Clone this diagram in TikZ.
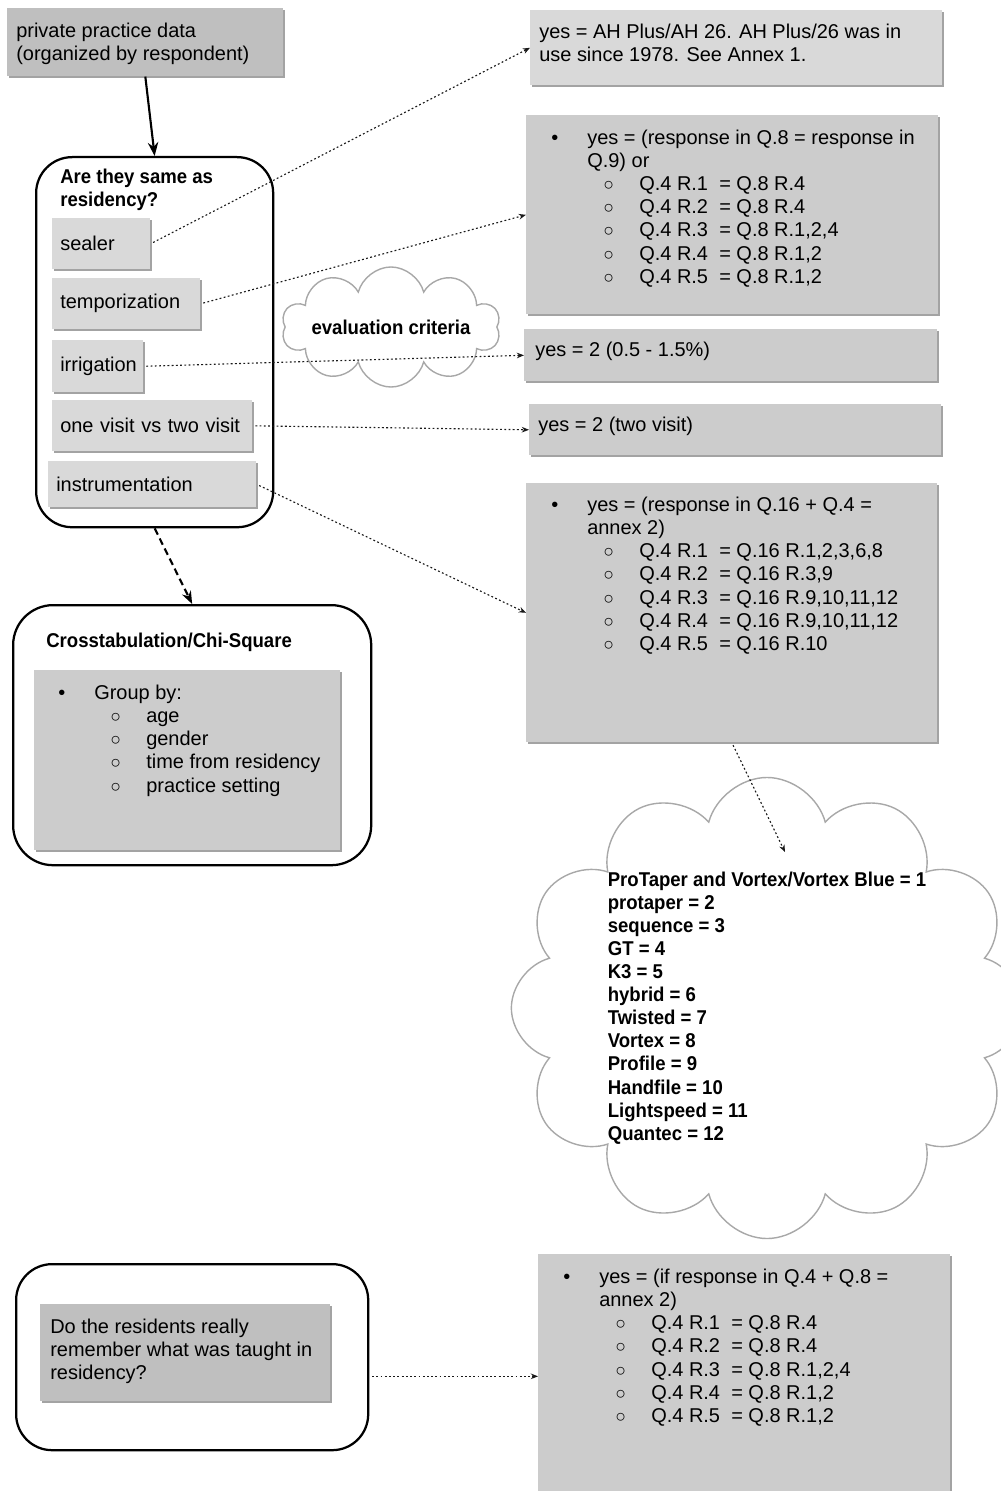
\documentclass[tikz,border=0pt]{standalone}
\usepackage{fontspec}
\setmainfont{Liberation Sans}
\newfontfamily\headfont{Liberation Sans}[FakeStretch=0.93]
\usepackage{xcolor}
\usetikzlibrary{arrows.meta,positioning,shapes.symbols,shadows}
\definecolor{BoxDark}{HTML}{BFBFBF}
\definecolor{BoxMid}{HTML}{CCCCCC}
\definecolor{BoxLight}{HTML}{D9D9D9}
\definecolor{CloudGray}{HTML}{A8A8A8}
\definecolor{EdgeGray}{HTML}{A3A3A3}
\newlength\pxu
\setlength\pxu{0.025cm}
\newcommand{\bodyfont}{\fontsize{14.2pt}{16.4pt}\selectfont}
\newcommand{\dotitem}[1]{\makebox[36\pxu][l]{\textbullet}#1}
\newcommand{\ringitem}[1]{\hspace*{52\pxu}\makebox[36\pxu][l]{{\fontsize{12.5pt}{10pt}\selectfont ○}}#1}
\newcommand{\qmap}[2]{\ringitem{\makebox[80\pxu][l]{#1}= #2}}
\tikzset{
  greybox/.style={fill=#1,draw=none,inner sep=0pt,anchor=north west,
    drop shadow={shadow xshift=0.9pt,shadow yshift=-1.1pt,fill=EdgeGray,opacity=1}},
  optbox/.style={greybox=BoxLight,font=\bodyfont,inner xsep=0.2cm,inner ysep=0pt,align=left},
  txt/.style={anchor=north west,inner sep=0pt,align=left,font=\bodyfont},
  headtxt/.style={txt,font=\headfont\bfseries\bodyfont},
  roundbox/.style={draw=black,line width=1.6pt,rounded corners=0.9cm,anchor=north west,inner sep=0pt},
  puffcloud/.style={cloud,cloud puffs=#1,cloud ignores aspect,draw=CloudGray,line width=1pt,
    inner sep=0pt,align=left,font=\headfont\bfseries\bodyfont},
  linkdot/.style={-{Stealth[length=1.8mm,width=1.4mm]},line width=0.8pt,draw=black!90,
    dash pattern=on 1.3pt off 1.7pt,shorten <=2pt},
  mainarrow/.style={-{Stealth[length=3.4mm,width=2.6mm]},line width=1.5pt},
  dasharrow/.style={-{Stealth[length=3.2mm,width=2.4mm]},line width=1.5pt,dash pattern=on 5pt off 3pt}
}
\begin{document}
\begin{tikzpicture}[x=0.025cm,y=-0.025cm]
\useasboundingbox (0,0) rectangle (1000,1491);
% left column
\node[greybox=BoxDark,minimum width=6.9cm,minimum height=1.7cm] (priv) at (7,8) {};
\node[txt] (privtxt) at (16,23) {private practice data\\(organized by respondent)};
\node[roundbox,minimum width=5.925cm,minimum height=9.25cm] (same) at (35,156) {};
\node[headtxt] (sametitle) at (60,169) {Are they same as\\residency?};
\node[optbox,text width=2.05cm,minimum height=1.275cm] (sealer) at (52,218) {sealer};
\node[optbox,text width=3.3cm,minimum height=1.275cm] (temp) at (52,278) {temporization};
\node[optbox,text width=1.875cm,minimum height=1.3cm] (irrig) at (52,340) {irrigation};
\node[optbox,text width=4.6cm,minimum height=1.275cm] (visit) at (52,400) {one visit vs two visit};
\node[optbox,text width=4.8cm,minimum height=1.15cm] (instr) at (48,461) {instrumentation};
\node[roundbox,minimum width=8.95cm,minimum height=6.5cm,rounded corners=1cm] (cross) at (12,604) {};
\node[headtxt] (crosstitle) at (46,633) {Crosstabulation/Chi-Square};
\node[greybox=BoxMid,minimum width=7.65cm,minimum height=4.5cm] (crossin) at (34,670) {};
\node[txt] (crosstxt) at (58,685) {\dotitem{Group by:}\\
  \ringitem{age}\\
  \ringitem{gender}\\
  \ringitem{time from residency}\\
  \ringitem{practice setting}};
\node[roundbox,minimum width=8.8cm,minimum height=4.65cm] (resid) at (15,1263) {};
\node[greybox=BoxDark,minimum width=7.25cm,minimum height=2.425cm] (residin) at (40,1304) {};
\node[txt] (residtxt) at (50,1319) {Do the residents really\\remember what was taught in\\residency?};
% right column
\node[greybox=BoxLight,minimum width=10.3cm,minimum height=1.875cm] (r1) at (530,10) {};
\node[txt] (r1txt) at (539,24) {yes = AH Plus/AH 26. AH Plus/26 was in\\use since 1978. See Annex 1.};
\node[greybox=BoxMid,minimum width=10.3cm,minimum height=4.975cm] (r2) at (526,115) {};
\node[txt] (r2txt) at (551,130) {\dotitem{yes = (response in Q.8 = response in}\\
  \hspace*{36\pxu}Q.9) or\\
  \qmap{Q.4 R.1}{Q.8 R.4}\\
  \qmap{Q.4 R.2}{Q.8 R.4}\\
  \qmap{Q.4 R.3}{Q.8 R.1,2,4}\\
  \qmap{Q.4 R.4}{Q.8 R.1,2}\\
  \qmap{Q.4 R.5}{Q.8 R.1,2}};
\node[greybox=BoxMid,minimum width=10.325cm,minimum height=1.3cm] (r3) at (524,329) {};
\node[txt] (r3txt) at (535,342) {yes = 2 (0.5 - 1.5\%)};
\node[greybox=BoxMid,minimum width=10.3cm,minimum height=1.275cm] (r4) at (529,404) {};
\node[txt] (r4txt) at (538,417) {yes = 2 (two visit)};
\node[greybox=BoxMid,minimum width=10.275cm,minimum height=6.475cm] (r5) at (526,483) {};
\node[txt] (r5txt) at (551,497) {\dotitem{yes = (response in Q.16 + Q.4 =}\\
  \hspace*{36\pxu}annex 2)\\
  \qmap{Q.4 R.1}{Q.16 R.1,2,3,6,8}\\
  \qmap{Q.4 R.2}{Q.16 R.3,9}\\
  \qmap{Q.4 R.3}{Q.16 R.9,10,11,12}\\
  \qmap{Q.4 R.4}{Q.16 R.9,10,11,12}\\
  \qmap{Q.4 R.5}{Q.16 R.10}};
\node[greybox=BoxMid,minimum width=10.3cm,minimum height=6.1cm] (rb) at (538,1254) {};
\node[txt] (rbtxt) at (563,1269) {\dotitem{yes = (if response in Q.4 + Q.8 =}\\
  \hspace*{36\pxu}annex 2)\\
  \qmap{Q.4 R.1}{Q.8 R.4}\\
  \qmap{Q.4 R.2}{Q.8 R.4}\\
  \qmap{Q.4 R.3}{Q.8 R.1,2,4}\\
  \qmap{Q.4 R.4}{Q.8 R.1,2}\\
  \qmap{Q.4 R.5}{Q.8 R.1,2}};
% clouds
\node[puffcloud=10,minimum width=5.45cm,minimum height=3.0cm] (evalc) at (391,327) {evaluation criteria};
\node[puffcloud=12,minimum width=11.65cm,minimum height=10.9cm] (brands) at (767,1008) {ProTaper and Vortex/Vortex Blue = 1\\
  protaper = 2\\sequence = 3\\GT = 4\\K3 = 5\\hybrid = 6\\Twisted = 7\\
  Vortex = 8\\Profile = 9\\Handfile = 10\\Lightspeed = 11\\Quantec = 12};
\coordinate (ctip) at (785,852);
% connectors
\draw[mainarrow] (priv.south) -- (same.north);
\draw[dasharrow] (same.south) -- (cross.north);
\draw[linkdot] (sealer.east) -- (r1.west);
\draw[linkdot] (temp.east) -- (r2.west);
\draw[linkdot] (irrig.east) -- (r3.west);
\draw[linkdot] (visit.east) -- (r4.west);
\draw[linkdot] (instr.east) -- (r5.west);
\draw[linkdot] (r5.south) -- (ctip);
\draw[linkdot] (resid.east |- rb.west) -- (rb.west);
\end{tikzpicture}
\end{document}
